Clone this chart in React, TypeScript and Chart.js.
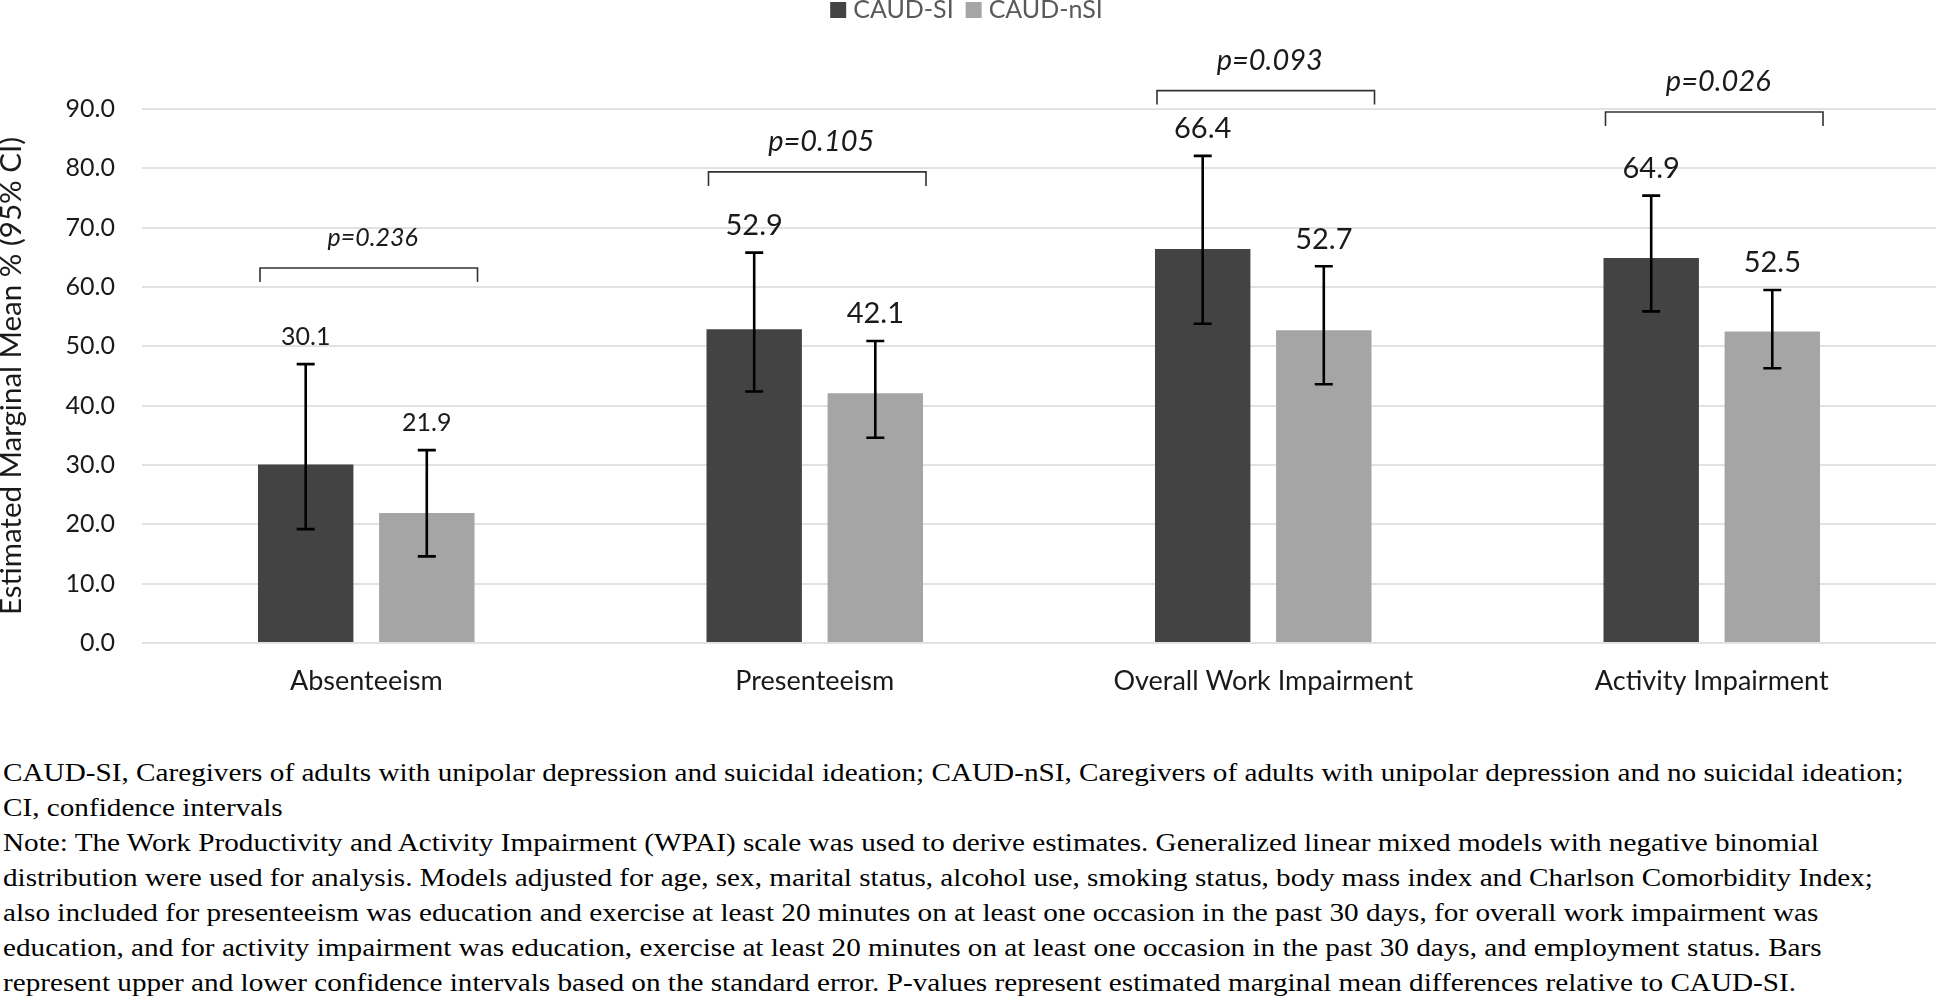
import React, { useEffect, useRef } from "react";
import { Chart, registerables } from "chart.js";

Chart.register(...registerables);

// ---------- data ----------
const categories = ["Absenteeism", "Presenteeism", "Overall Work Impairment", "Activity Impairment"];
const seriesNames = ["CAUD-SI", "CAUD-nSI"];
const siMeans = [30.1, 52.9, 66.4, 64.9];
const siUpper = [47.0, 65.8, 82.1, 75.4];
const siLower = [19.2, 42.4, 53.8, 55.9];
const nsiMeans = [21.9, 42.1, 52.7, 52.5];
const nsiUpper = [32.5, 50.9, 63.5, 59.5];
const nsiLower = [14.6, 34.6, 43.6, 46.3];
const pValueLabels = ["p=0.236", "p=0.105", "p=0.093", "p=0.026"];
const bracketLevels = [63.2, 79.4, 93.1, 89.5];
const yAxisTitle = "Estimated Marginal Mean % (95% CI)";
const yMin = 0;
const yMax = 90;
const yStep = 10;

const footnoteLines = [
  "CAUD-SI, Caregivers of adults with unipolar depression and suicidal ideation; CAUD-nSI, Caregivers of adults with unipolar depression and no suicidal ideation;",
  "CI, confidence intervals",
  "Note: The Work Productivity and Activity Impairment (WPAI) scale was used to derive estimates. Generalized linear mixed models with negative binomial",
  "distribution were used for analysis. Models adjusted for age, sex, marital status, alcohol use, smoking status, body mass index and Charlson Comorbidity Index;",
  "also included for presenteeism was education and exercise at least 20 minutes on at least one occasion in the past 30 days, for overall work impairment was",
  "education, and for activity impairment was education, exercise at least 20 minutes on at least one occasion in the past 30 days, and employment status. Bars",
  "represent upper and lower confidence intervals based on the standard error. P-values represent estimated marginal mean differences relative to CAUD-SI.",
];

// ---------- style ----------
const COLORS = ["#434343", "#A5A5A5"];
const FONT = "Lato, 'Open Sans', sans-serif";
const CANVAS_W = 1945;
const CANVAS_H = 720;
const PLOT_BOTTOM = 643;
const GROUP_FONT_SIZES = [25, 29, 29, 29];

const overlayPlugin = {
  id: "overlay",
  afterDatasetsDraw(chart: any) {
    const ctx = chart.ctx as CanvasRenderingContext2D;
    const y = chart.scales.y;
    ctx.save();
    // error bars + value labels
    chart.data.datasets.forEach((ds: any, di: number) => {
      const meta = chart.getDatasetMeta(di);
      meta.data.forEach((bar: any, i: number) => {
        const x = bar.x;
        const yt = y.getPixelForValue(ds.ciUpper[i]);
        const yb = y.getPixelForValue(ds.ciLower[i]);
        ctx.strokeStyle = "#000";
        ctx.lineWidth = 2.6;
        ctx.lineCap = "butt";
        ctx.beginPath();
        ctx.moveTo(x, yt);
        ctx.lineTo(x, yb);
        ctx.moveTo(x - 9, yt);
        ctx.lineTo(x + 9, yt);
        ctx.moveTo(x - 9, yb);
        ctx.lineTo(x + 9, yb);
        ctx.stroke();
        ctx.fillStyle = "#1a1a1a";
        ctx.font = `${GROUP_FONT_SIZES[i]}px ${FONT}`;
        ctx.textAlign = "center";
        ctx.textBaseline = "middle";
        ctx.fillText(Number(ds.data[i]).toFixed(1), x, yt - 27);
      });
    });
    // significance brackets
    const m0 = chart.getDatasetMeta(0);
    const m1 = chart.getDatasetMeta(1);
    categories.forEach((_, i) => {
      const b0 = m0.data[i];
      const b1 = m1.data[i];
      const x0 = b0.x - b0.width / 2 + 2;
      const x1 = b1.x + b1.width / 2 + 3;
      const yb = y.getPixelForValue(bracketLevels[i]);
      ctx.strokeStyle = "#333";
      ctx.lineWidth = 1.6;
      ctx.beginPath();
      ctx.moveTo(x0, yb + 14);
      ctx.lineTo(x0, yb);
      ctx.lineTo(x1, yb);
      ctx.lineTo(x1, yb + 14);
      ctx.stroke();
      ctx.fillStyle = "#1a1a1a";
      ctx.font = `italic ${GROUP_FONT_SIZES[i]}px ${FONT}`;
      ctx.textAlign = "center";
      ctx.textBaseline = "middle";
      ctx.fillText(pValueLabels[i], (x0 + x1) / 2 + 4, yb - 30);
    });
    // legend
    ctx.font = `25px ${FONT}`;
    ctx.textBaseline = "middle";
    ctx.textAlign = "left";
    const box = 16;
    const gapText = 7;
    const gapItem = 12;
    const widths = chart.data.datasets.map((d: any) => ctx.measureText(d.label).width);
    const total = widths.reduce((a: number, w: number) => a + box + gapText + w, 0) + gapItem * (widths.length - 1);
    let lx = chart.width / 2 - 6 - total / 2;
    const ly = 10;
    chart.data.datasets.forEach((d: any, di: number) => {
      ctx.fillStyle = d.backgroundColor;
      ctx.fillRect(lx, ly - box / 2, box, box);
      lx += box + gapText;
      ctx.fillStyle = "#595959";
      ctx.fillText(d.label, lx, ly);
      lx += widths[di] + gapItem;
    });
    ctx.restore();
  },
};

export default function App() {
  const ref = useRef<HTMLCanvasElement>(null);
  useEffect(() => {
    document.body.style.margin = "0";
    const chart = new Chart(ref.current as HTMLCanvasElement, {
      type: "bar",
      data: {
        labels: categories,
        datasets: [
          {
            label: seriesNames[0],
            data: siMeans,
            backgroundColor: COLORS[0],
            ciUpper: siUpper,
            ciLower: siLower,
            categoryPercentage: 0.54,
            barPercentage: 0.788,
          } as any,
          {
            label: seriesNames[1],
            data: nsiMeans,
            backgroundColor: COLORS[1],
            ciUpper: nsiUpper,
            ciLower: nsiLower,
            categoryPercentage: 0.54,
            barPercentage: 0.788,
          } as any,
        ],
      },
      options: {
        responsive: false,
        animation: false,
        devicePixelRatio: 1,
        layout: { padding: { top: 109, right: 9, left: 0, bottom: 0 } },
        plugins: {
          legend: { display: false },
          tooltip: { enabled: false },
        },
        scales: {
          x: {
            grid: { display: false },
            border: { display: false },
            ticks: {
              color: "#1a1a1a",
              font: { family: FONT, size: 27 },
              padding: 14,
              maxRotation: 0,
              autoSkip: false,
            },
            afterFit(scale: any) {
              scale.height = CANVAS_H - PLOT_BOTTOM;
            },
          },
          y: {
            min: yMin,
            max: yMax,
            grid: { color: "#E2E2E2", lineWidth: 2, drawTicks: false },
            border: { display: false },
            ticks: {
              stepSize: yStep,
              color: "#1a1a1a",
              font: { family: FONT, size: 25 },
              padding: 27,
              callback: (v: any) => Number(v).toFixed(1),
            },
            title: {
              display: true,
              text: yAxisTitle,
              color: "#1a1a1a",
              font: { family: FONT, size: 29.5, lineHeight: 0.8 },
              padding: 0,
            },
            afterFit(scale: any) {
              scale.width = 142;
            },
          },
        },
      },
      plugins: [overlayPlugin],
    });
    return () => chart.destroy();
  }, []);

  return (
    <div style={{ position: "relative", width: 1945, height: 997, background: "#fff", overflow: "hidden" }}>
      <canvas ref={ref} width={CANVAS_W} height={CANVAS_H} style={{ display: "block", position: "absolute", left: 0, top: 0 }} />
      <div
        style={{
          position: "absolute",
          left: 3,
          top: 755,
          fontFamily: "'Liberation Serif', 'Times New Roman', serif",
          fontSize: 25.5,
          lineHeight: "35px",
          color: "#000",
          whiteSpace: "nowrap",
          transform: "scaleX(1.145)",
          transformOrigin: "0 0",
        }}
      >
        {footnoteLines.map((l, i) => (
          <div key={i}>{l}</div>
        ))}
      </div>
    </div>
  );
}
